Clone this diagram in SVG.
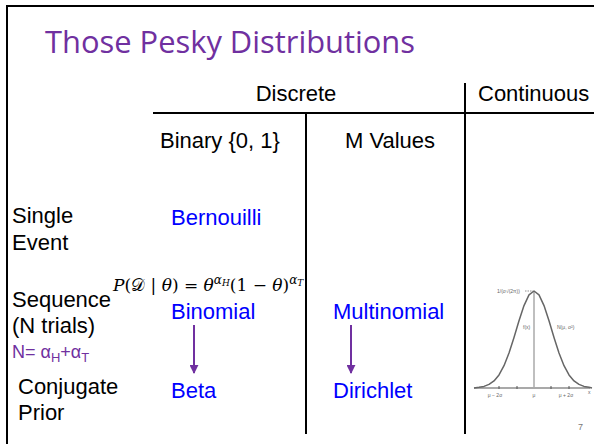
<svg xmlns="http://www.w3.org/2000/svg" width="594" height="444" viewBox="0 0 594 444">
<style>
.t{font-family:"Liberation Sans",Arial,sans-serif;font-size:22px;fill:#000}
.b{font-family:"Liberation Sans",Arial,sans-serif;font-size:22px;fill:#0000FF}
.title{font-family:"Open Sans","Noto Sans",sans-serif;font-size:31px;fill:#7030A0}
.rule{stroke:#000;stroke-width:2;fill:none}
.math{font-family:"DejaVu Serif","Liberation Serif",serif;font-size:17px;fill:#000}
.it{font-style:italic}
.g{font-family:"Liberation Sans",Arial,sans-serif;font-size:5px;fill:#666}
.arr{stroke:#7030A0;stroke-width:2;fill:none}
</style>
<defs>
<marker id="ah" viewBox="0 0 10 10" refX="9" refY="5" markerWidth="4.5" markerHeight="4.5" orient="auto" markerUnits="strokeWidth">
<path d="M0,0 L10,5 L0,10 z" fill="#7030A0"/>
</marker>
</defs>
<rect width="594" height="444" fill="#fff"/>
<g id="frame">
<path class="rule" d="M7,444 V6 H594" stroke-width="2.5"/>
</g>
<g id="title">
<text class="title" x="45" y="53" textLength="370" lengthAdjust="spacingAndGlyphs">Those Pesky Distributions</text>
</g>
<g id="table">
<path class="rule" d="M153,113 H594"/>
<path class="rule" d="M306,113 V434"/>
<path class="rule" d="M465,83 V434"/>
</g>
<g id="header-discrete"><text class="t" x="296" y="101" text-anchor="middle">Discrete</text></g>
<g id="header-continuous"><text class="t" x="478" y="101">Continuous</text></g>
<g id="header-binary"><text class="t" x="160" y="148">Binary {0, 1}</text></g>
<g id="header-mvalues"><text class="t" x="345" y="148">M Values</text></g>
<g id="row-single"><text class="t" x="12" y="223">Single</text><text class="t" x="12" y="250">Event</text></g>
<g id="row-sequence"><text class="t" x="12" y="307">Sequence</text><text class="t" x="12" y="333">(N trials)</text></g>
<g id="n-label"><text x="12" y="358" style="font-family:'Liberation Sans',Arial,sans-serif;font-size:18px;fill:#7030A0">N= α<tspan font-size="13" dy="4">H</tspan><tspan dy="-4">+α</tspan><tspan font-size="13" dy="4">T</tspan></text></g>
<g id="row-prior"><text class="t" x="18" y="394">Conjugate</text><text class="t" x="18" y="420">Prior</text></g>
<g id="formula"><text class="math" x="113" y="291"><tspan class="it">P</tspan>(<tspan>𝒟</tspan> | <tspan class="it">θ</tspan>) = <tspan class="it">θ</tspan><tspan class="it" font-size="12" dy="-7">α</tspan><tspan class="it" font-size="9" dy="2">H</tspan><tspan dy="5">(1 − </tspan><tspan class="it">θ</tspan>)<tspan class="it" font-size="12" dy="-7">α</tspan><tspan class="it" font-size="9" dy="2">T</tspan></text></g>
<g id="bernouilli"><text class="b" x="171" y="225">Bernouilli</text></g>
<g id="binomial"><text class="b" x="171" y="319">Binomial</text></g>
<g id="beta"><text class="b" x="171" y="398">Beta</text></g>
<g id="multinomial"><text class="b" x="333" y="319">Multinomial</text></g>
<g id="dirichlet"><text class="b" x="333" y="398">Dirichlet</text></g>
<g id="connectors">
<path class="arr" d="M194,325 V373" marker-end="url(#ah)"/>
<path class="arr" d="M351,325 V373" marker-end="url(#ah)"/>
</g>
<g id="gaussian">
<path d="M474,388 H590" stroke="#555" stroke-width="1.2"/>
<path d="M534,291 V388" stroke="#aaa" stroke-width="1.5"/>
<path d="M499,386 v3 M517,386 v3 M551,386 v3 M569,386 v3" stroke="#555" stroke-width="1"/>
<path d="M525,291 H533" stroke="#777" stroke-width="0.8" stroke-dasharray="1.5,1"/>
<path d="M474,388 L479,387.3 L484,386.4 L489,384.4 L494,380.9 L499,374.9 L504,365.7 L509,353 L514,337.5 L519,320.8 L524,305.6 L529,294.9 L534,291 L539,294.9 L544,305.6 L549,320.8 L554,337.5 L559,353 L564,365.7 L569,374.9 L574,380.9 L579,384.4 L584,386.4 L589,387.3 L592,388" stroke="#666" stroke-width="1.5" fill="none" stroke-linejoin="round"/>
<text class="g" x="497" y="293">1/(σ√(2π))</text>
<text class="g" x="523" y="329">f(x)</text>
<text class="g" x="557" y="329">N(μ, σ²)</text>
<text class="g" x="495" y="397" text-anchor="middle">μ − 2σ</text>
<text class="g" x="534" y="397" text-anchor="middle">μ</text>
<text class="g" x="566" y="397" text-anchor="middle">μ + 2σ</text>
<text class="g" x="588" y="394">x</text>
</g>
<g id="page-number"><text x="578" y="430" style="font-family:'Liberation Sans',Arial,sans-serif;font-size:9px;fill:#777">7</text></g>
</svg>
